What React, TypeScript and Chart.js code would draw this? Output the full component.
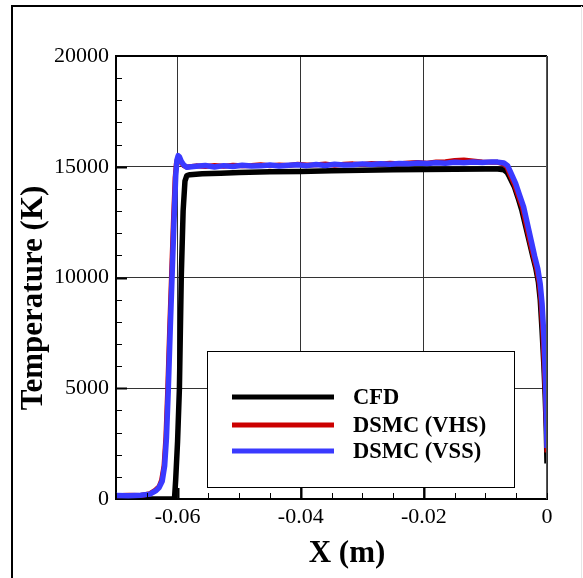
import React, { useEffect, useRef } from 'react';
import { Chart, registerables } from 'chart.js';

Chart.register(...registerables);

// ---- data ----
const seriesLabels = ['CFD', 'DSMC (VHS)', 'DSMC (VSS)'];
const seriesColors = ['#000000', '#cc0000', '#3a3aff'];
const xTickValues = [-0.06, -0.04, -0.02, 0];
const yTickValues = [0, 5000, 10000, 15000, 20000];
const xAxisTitle = 'X (m)';
const yAxisTitle = 'Temperature (K)';

const cfdX = [
  -0.07, -0.064, -0.0605, -0.0603, -0.06, -0.0597, -0.0594, -0.0591, -0.0588, -0.0585,
  -0.058, -0.056, -0.053, -0.05, -0.045, -0.04, -0.035, -0.03, -0.025, -0.02, -0.015, -0.01,
  -0.008, -0.007, -0.0065, -0.0061, -0.0053, -0.0047, -0.0041, -0.0035, -0.0029, -0.0023,
  -0.0018, -0.0014, -0.0011, -0.0008, -0.0005, -0.0003, -0.00012, 0,
];
const cfdT = [
  0, 0, 0, 900, 2600, 5000, 10000, 13000, 14350, 14600,
  14640, 14680, 14710, 14740, 14770, 14790, 14820, 14840, 14860, 14880, 14890, 14900,
  14900, 14860, 14750, 14550, 14100, 13600, 13050, 12350, 11650, 10950,
  10400, 9800, 9000, 7600, 6000, 4700, 3200, 1600,
];

const vhsX = [
  -0.07, -0.068, -0.066, -0.0645, -0.0636, -0.063, -0.0626, -0.0622, -0.0619, -0.0616,
  -0.0613, -0.061, -0.0607, -0.0604, -0.0602, -0.06, -0.0597, -0.0593, -0.059,
  -0.0585, -0.057, -0.0555, -0.054, -0.0525, -0.051, -0.0495, -0.048, -0.0465, -0.045,
  -0.0435, -0.042, -0.0405, -0.039, -0.0375, -0.036, -0.0345, -0.033, -0.0315, -0.03,
  -0.0285, -0.027, -0.0255, -0.024, -0.0225, -0.021, -0.0195, -0.018, -0.0165, -0.015,
  -0.0135, -0.012, -0.0105, -0.009,
  -0.008, -0.007, -0.0065, -0.0061, -0.0053, -0.0047, -0.004, -0.0034, -0.0028, -0.0022,
  -0.0017, -0.0013, -0.001, -0.0007, -0.0005, -0.0003, -0.00012, 0,
];
const vhsT = [
  150, 170, 160, 240, 400, 560, 850, 1500, 2800, 5000,
  7600, 10000, 12400, 14500, 15150, 15350, 15250, 15150, 15050,
  14990, 15040, 15010, 15060, 15020, 15070, 15040, 15060, 15090, 15050,
  15080, 15060, 15110, 15080, 15090, 15120, 15070, 15110, 15130, 15100,
  15150, 15120, 15160, 15140, 15170, 15190, 15160, 15210, 15230, 15280,
  15300, 15260, 15220, 15200,
  15200, 15120, 14980, 14700, 14200, 13700, 13150, 12400, 11650, 10950,
  10400, 9800, 9000, 7600, 6300, 5000, 3500, 2100,
];

const vssX = [
  -0.07, -0.068, -0.066, -0.0645, -0.0635, -0.063, -0.0625, -0.0621, -0.0618, -0.0615,
  -0.0612, -0.0609, -0.0606, -0.0603, -0.0601, -0.0599, -0.0597, -0.0594, -0.059,
  -0.0585, -0.057, -0.0555, -0.054, -0.0525, -0.051, -0.0495, -0.048, -0.0465, -0.045,
  -0.0435, -0.042, -0.0405, -0.039, -0.0375, -0.036, -0.0345, -0.033, -0.0315, -0.03,
  -0.0285, -0.027, -0.0255, -0.024, -0.0225, -0.021, -0.0195, -0.018, -0.0165, -0.015,
  -0.0135, -0.012, -0.0105, -0.009,
  -0.008, -0.007, -0.0064, -0.0059, -0.0051, -0.0045, -0.0038, -0.0032, -0.0026, -0.002,
  -0.0015, -0.0011, -0.0008, -0.0005, -0.00035, -0.0002, -0.00008, 0,
];
const vssT = [
  160, 150, 170, 220, 380, 520, 800, 1500, 2800, 5000,
  7600, 10000, 12400, 14600, 15300, 15500, 15450, 15250, 15080,
  14980, 15020, 15060, 14990, 15050, 15010, 15070, 15030, 15040, 15080,
  15030, 15070, 15090, 15050, 15100, 15060, 15110, 15080, 15090, 15130,
  15100, 15140, 15110, 15150, 15130, 15170, 15150, 15180, 15160, 15200,
  15180, 15210, 15190, 15220,
  15210, 15170, 15050, 14750, 14250, 13750, 13190, 12450, 11700, 10950,
  10400, 9700, 8800, 7300, 6200, 4900, 3500, 2300,
];

const FONT = "'Liberation Serif', 'Times New Roman', serif";

const toPoints = (xs: number[], ys: number[]) => xs.map((x, i) => ({ x, y: ys[i] }));

export default function App() {
  const ref = useRef<HTMLCanvasElement>(null);

  useEffect(() => {
    const framePlugin = {
      id: 'frame',
      beforeDraw(chart: any) {
        const { ctx, width, height } = chart;
        ctx.save();
        ctx.fillStyle = '#ffffff';
        ctx.fillRect(0, 0, width, height);
        ctx.strokeStyle = '#000';
        ctx.lineWidth = 2;
        ctx.beginPath();
        ctx.moveTo(12, height);
        ctx.lineTo(12, 6);
        ctx.lineTo(width, 6);
        ctx.stroke();
        ctx.strokeStyle = '#e6e6e6';
        ctx.lineWidth = 1;
        ctx.beginPath();
        ctx.moveTo(581.5, 6);
        ctx.lineTo(581.5, height);
        ctx.stroke();
        ctx.restore();
      },
    };

    const decorPlugin = {
      id: 'decor',
      afterDatasetsDraw(chart: any) {
        const { ctx, chartArea: ca, scales } = chart;
        const xs = scales.x;
        const ys = scales.y;
        ctx.save();
        // plot box top & right
        ctx.strokeStyle = '#000';
        ctx.lineWidth = 2;
        ctx.beginPath();
        ctx.moveTo(ca.left, ca.top);
        ctx.lineTo(ca.right, ca.top);
        ctx.stroke();
        ctx.strokeStyle = '#555';
        ctx.lineWidth = 1;
        ctx.beginPath();
        ctx.moveTo(ca.right - 0.5, ca.top);
        ctx.lineTo(ca.right - 0.5, ca.bottom);
        ctx.stroke();

        // inward ticks
        ctx.strokeStyle = '#000';
        for (let k = -14; k <= 0; k++) {
          const v = k * 0.005;
          const px = Math.round(xs.getPixelForValue(v)) + 0.5;
          const major = k % 4 === 0 && k !== 0;
          ctx.lineWidth = major ? 2 : 1;
          ctx.beginPath();
          ctx.moveTo(px, ca.bottom);
          ctx.lineTo(px, ca.bottom - (major ? 11 : 6));
          ctx.stroke();
        }
        for (let v = 1000; v < 20000; v += 1000) {
          const py = Math.round(ys.getPixelForValue(v)) + 0.5;
          const major = v % 5000 === 0;
          ctx.lineWidth = major ? 2 : 1;
          ctx.beginPath();
          ctx.moveTo(ca.left, py);
          ctx.lineTo(ca.left + (major ? 11 : 6), py);
          ctx.stroke();
        }

        // legend box
        const bx = 207, by = 351, bw = 307, bh = 136;
        ctx.fillStyle = '#fff';
        ctx.fillRect(bx, by, bw, bh);
        ctx.strokeStyle = '#000';
        ctx.lineWidth = 1;
        ctx.strokeRect(bx + 0.5, by + 0.5, bw, bh);
        const rows = [397, 425, 451];
        chart.data.datasets.forEach((ds: any, i: number) => {
          ctx.strokeStyle = ds.borderColor;
          ctx.lineWidth = 5;
          ctx.beginPath();
          ctx.moveTo(232, rows[i]);
          ctx.lineTo(334, rows[i]);
          ctx.stroke();
          ctx.fillStyle = '#000';
          ctx.font = `bold 22.5px ${FONT}`;
          ctx.textAlign = 'left';
          ctx.textBaseline = 'middle';
          ctx.fillText(ds.label, 353, rows[i] + 1);
        });

        // axis titles
        ctx.fillStyle = '#000';
        ctx.font = `bold 31px ${FONT}`;
        ctx.textAlign = 'center';
        ctx.textBaseline = 'middle';
        ctx.fillText(xAxisTitle, 347, 554);
        ctx.translate(34, 298);
        ctx.rotate(-Math.PI / 2);
        ctx.fillText(yAxisTitle, 0, 0);
        ctx.restore();
      },
    };

    const chart = new Chart(ref.current as HTMLCanvasElement, {
      type: 'scatter',
      data: {
        datasets: [
          { label: seriesLabels[0], data: toPoints(cfdX, cfdT), borderColor: seriesColors[0], borderWidth: 5.5, order: 3 },
          { label: seriesLabels[1], data: toPoints(vhsX, vhsT), borderColor: seriesColors[1], borderWidth: 5, order: 2 },
          { label: seriesLabels[2], data: toPoints(vssX, vssT), borderColor: seriesColors[2], borderWidth: 5.5, order: 1 },
        ].map((d) => ({
          ...d,
          showLine: true,
          pointRadius: 0,
          pointHoverRadius: 0,
          tension: 0,
          fill: false,
          backgroundColor: d.borderColor,
          borderJoinStyle: 'round' as const,
        })),
      },
      options: {
        animation: false,
        responsive: false,
        layout: { padding: { top: 56, right: 36, left: 0, bottom: 0 } },
        plugins: { legend: { display: false }, tooltip: { enabled: false } },
        scales: {
          x: {
            type: 'linear',
            min: -0.07,
            max: 0,
            afterBuildTicks: (s: any) => {
              s.ticks = xTickValues.map((value) => ({ value }));
            },
            afterFit: (s: any) => {
              s.height = 79;
            },
            ticks: {
              autoSkip: false,
              maxRotation: 0,
              padding: 5,
              color: '#000',
              font: { family: FONT, size: 22 },
              callback: (v: any) => (Number(v) === 0 ? '0' : Number(v).toFixed(2)),
            },
            grid: { color: '#333', lineWidth: 1, drawTicks: false },
            border: { color: '#000', width: 2 },
          },
          y: {
            type: 'linear',
            min: 0,
            max: 20000,
            afterBuildTicks: (s: any) => {
              s.ticks = yTickValues.map((value) => ({ value }));
            },
            afterFit: (s: any) => {
              s.width = 116;
            },
            ticks: {
              autoSkip: false,
              padding: 7,
              color: '#000',
              font: { family: FONT, size: 22 },
              callback: (v: any) => String(v),
            },
            grid: { color: '#333', lineWidth: 1, drawTicks: false },
            border: { color: '#000', width: 2 },
          },
        },
      },
      plugins: [framePlugin, decorPlugin],
    });
    return () => chart.destroy();
  }, []);

  return (
    <div style={{ position: 'absolute', left: 0, top: 0, width: 583, height: 578, background: '#fff' }}>
      <canvas ref={ref} width={583} height={578} style={{ display: 'block' }} />
    </div>
  );
}
